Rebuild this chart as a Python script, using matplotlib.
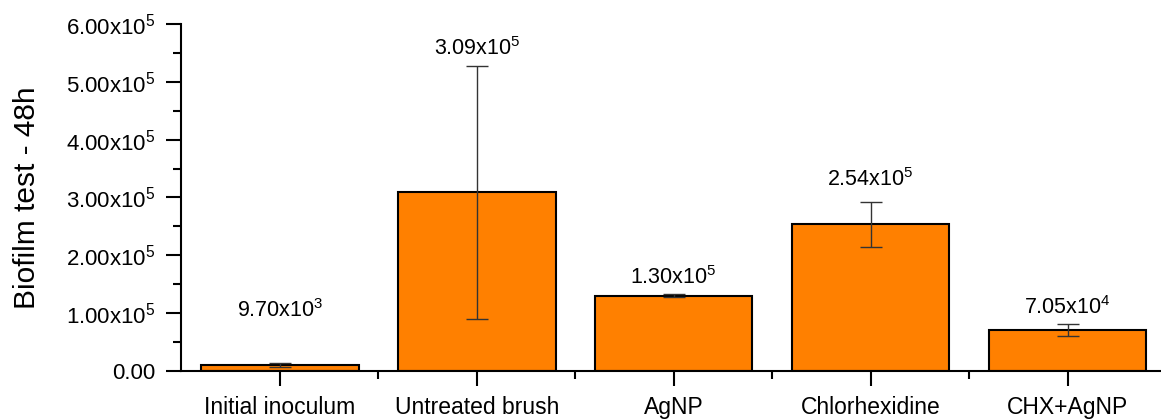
import matplotlib
matplotlib.use('Agg')
import matplotlib.pyplot as plt
from matplotlib.ticker import MultipleLocator, FuncFormatter, AutoMinorLocator

plt.rcParams['font.family'] = ['Liberation Sans', 'DejaVu Sans']
plt.rcParams['mathtext.default'] = 'regular'

categories = ['Initial inoculum', 'Untreated brush', 'AgNP', 'Chlorhexidine', 'CHX+AgNP']
means = [9.70e3, 3.09e5, 1.30e5, 2.54e5, 7.05e4]
errors = [3.5e3, 2.19e5, 2.5e3, 3.9e4, 1.04e4]
labels = ['9.70x10$^{3}$', '3.09x10$^{5}$', '1.30x10$^{5}$', '2.54x10$^{5}$', '7.05x10$^{4}$']
# label offset above error bar top, in points
label_offsets = [38, 12, 12, 16, 12]


def sci_fmt(v, pos):
    if v == 0:
        return '0.00'
    e = 0
    m = v
    while abs(m) >= 10:
        m /= 10
        e += 1
    return '{:.2f}x10$^{{{}}}$'.format(m, e)


fig = plt.figure(figsize=(11.61, 4.19), dpi=100)
ax = fig.add_axes([0.1563, 0.1146, 0.848, 0.8281])

x = list(range(len(categories)))
ax.bar(x, means, width=0.8, color='#FF8000', edgecolor='black', linewidth=1.5, zorder=2)
ax.errorbar(x, means, yerr=errors, fmt='none', ecolor='#333333', elinewidth=1.0,
            capsize=8, capthick=1.0, zorder=3)

for i in range(len(categories)):
    ax.annotate(labels[i], xy=(x[i], means[i] + errors[i]), xytext=(0, label_offsets[i]),
                textcoords='offset points', ha='center', va='center', fontsize=15.5)

ax.set_xlim(-0.5, 4.5)
ax.set_ylim(0, 6e5)
ax.set_xticks(x)
ax.set_xticklabels(categories, fontsize=16.5)
ax.set_xticks([i + 0.5 for i in x[:-1]], minor=True)
ax.yaxis.set_major_locator(MultipleLocator(1e5))
ax.yaxis.set_minor_locator(AutoMinorLocator(2))
ax.yaxis.set_major_formatter(FuncFormatter(sci_fmt))
ax.tick_params(axis='y', labelsize=16)

ax.tick_params(which='major', direction='out', length=11, width=1.5, pad=8)
ax.tick_params(which='minor', direction='out', length=5.5, width=1.5)
ax.tick_params(axis='x', which='major', pad=7)

ax.spines['top'].set_visible(False)
ax.spines['right'].set_visible(False)
ax.spines['left'].set_linewidth(1.5)
ax.spines['bottom'].set_linewidth(1.5)

ax.set_ylabel('Biofilm test - 48h', fontsize=21.5, labelpad=18)

fig.savefig('out.png', dpi=100)
plt.close(fig)
